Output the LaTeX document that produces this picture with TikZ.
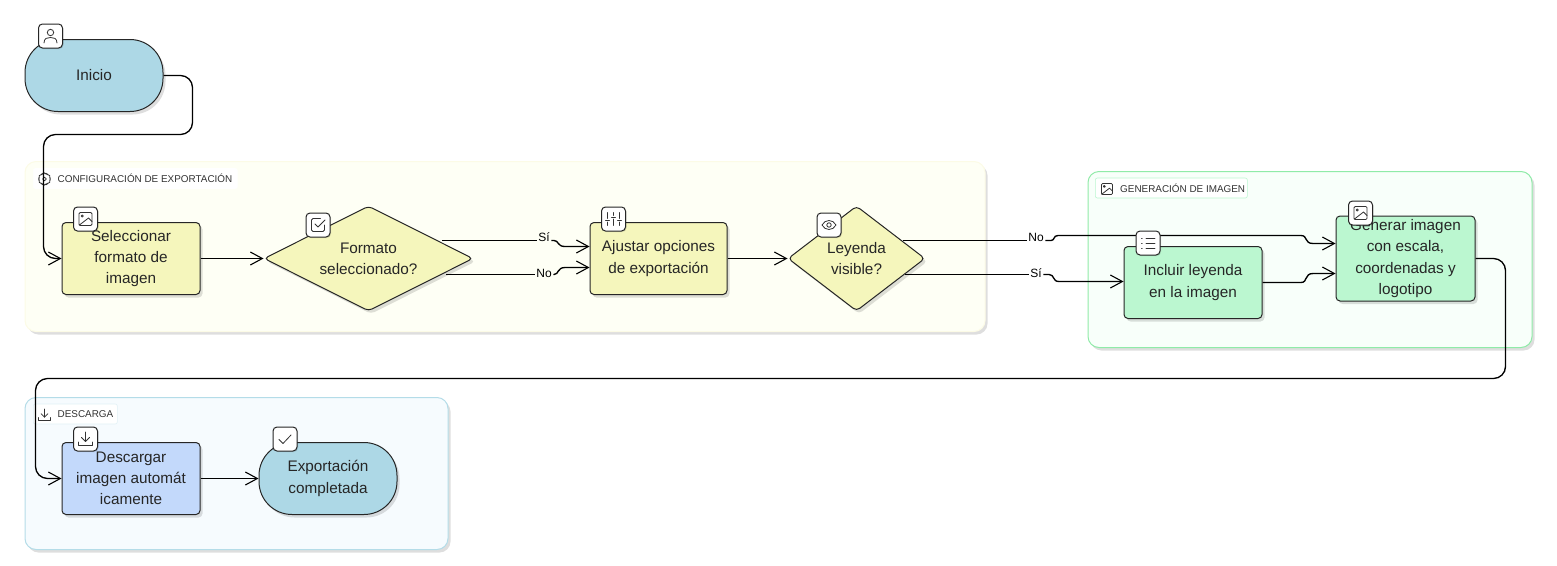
\documentclass[tikz,border=0pt]{standalone}
\usepackage{fontspec}
\setmainfont{Liberation Sans}
\usetikzlibrary{arrows.meta,shapes.geometric,shadows}
\definecolor{nodeline}{HTML}{262626}
\definecolor{startblue}{HTML}{ADD8E6}
\definecolor{stepyellow}{HTML}{F5F6BC}
\definecolor{stepgreen}{HTML}{BBF7D0}
\definecolor{stepblue}{HTML}{C3D9FB}
\definecolor{groupyellow}{HTML}{FEFFF5}
\definecolor{edgeyellow}{HTML}{FCFBE6}
\definecolor{groupgreen}{HTML}{F8FFFA}
\definecolor{edgegreen}{HTML}{90EBA8}
\definecolor{groupblue}{HTML}{F6FBFE}
\definecolor{edgeblue}{HTML}{B4DCE8}
\tikzset{
  softshadow/.style={drop shadow={shadow xshift=2.5pt,shadow yshift=-3pt,fill=black,opacity=0.13}},
  groupbox/.style={rectangle,rounded corners=11pt,line width=1pt,inner sep=0pt,anchor=north west,softshadow},
  grouplabel/.style={rectangle,rounded corners=2pt,line width=0.6pt,fill=white,inner sep=0pt,anchor=west,minimum height=20pt},
  grouptext/.style={font=\fontsize{9.9}{12}\selectfont,text=black!80,inner sep=0pt,anchor=west},
  stepbox/.style={rectangle,draw=nodeline,line width=1pt,rounded corners=4pt,inner sep=0pt,align=center,
    text=black!85,font=\fontsize{15.3}{21.3}\selectfont,softshadow},
  termbox/.style={stepbox,rounded corners=33pt,fill=startblue,minimum width=138pt,minimum height=72pt},
  askbox/.style={diamond,draw=nodeline,fill=stepyellow,line width=1pt,rounded corners=4pt,inner sep=0pt,align=center,
    text=black!85,font=\fontsize{15.3}{21.3}\selectfont,softshadow},
  iconbox/.style={rectangle,draw=nodeline,fill=white,line width=1pt,rounded corners=4pt,minimum size=24pt,inner sep=0pt,
    drop shadow={shadow xshift=1pt,shadow yshift=-1pt,fill=black,opacity=0.12}},
  edgetext/.style={font=\fontsize{12}{14}\selectfont,inner sep=1.5pt},
  flowplain/.style={draw=black,line width=1.35pt},
  flowjog/.style={flowplain,-{Straight Barb[length=12pt,width=13pt,line width=1.1pt]}},
  flow/.style={flowjog,rounded corners=12pt},
  icoline/.style={draw=black!80,line width=0.8pt,line cap=round,line join=round},
  iconperson/.pic={
    \draw[icoline] (0,-3.5) circle (3.2);
    \draw[icoline] (-6.5,7) .. controls (-6.5,2) and (-3,1.5) .. (0,1.5) .. controls (3,1.5) and (6.5,2) .. (6.5,7);
  },
  iconimage/.pic={
    \draw[icoline,rounded corners=1.2pt] (-6.5,-6.5) rectangle (6.5,6.5);
    \draw[icoline] (-3.2,-3) circle (1.1);
    \draw[icoline] (-6.3,6.2) -- (3,-1) -- (6.5,2.5);
  },
  iconcheckbox/.pic={
    \draw[icoline,rounded corners=1.5pt] (6.5,0) -- (6.5,6.5) -- (-6.5,6.5) -- (-6.5,-6.5) -- (2.5,-6.5);
    \draw[icoline] (-3,-1) -- (0,2) -- (7,-5);
  },
  iconsliders/.pic={
    \foreach \xa/\ya in {-6/1.5,0/-1.5,6/1.5}{
      \draw[icoline] (\xa,-6.5) -- (\xa,\ya-2);
      \draw[icoline] (\xa,\ya+1.5) -- (\xa,6.5);
      \draw[icoline] (\xa-2,\ya) -- (\xa+2,\ya);
    }
  },
  iconeye/.pic={
    \draw[icoline] (-7,0) .. controls (-4,-6) and (4,-6) .. (7,0) .. controls (4,6) and (-4,6) .. (-7,0) -- cycle;
    \draw[icoline] (0,0) circle (2.2);
  },
  iconlist/.pic={
    \foreach \ya in {-5,0,5}{
      \draw[icoline] (-2,\ya) -- (7,\ya);
      \draw[icoline] (-6.5,\ya) -- (-5.8,\ya);
    }
  },
  icondown/.pic={
    \draw[icoline] (0,-7) -- (0,2.5);
    \draw[icoline] (-4,-1.5) -- (0,2.5) -- (4,-1.5);
    \draw[icoline] (-7,3) -- (-7,6.5) -- (7,6.5) -- (7,3);
  },
  iconcheck/.pic={
    \draw[icoline] (-6,0.5) -- (-2,4.5) -- (6,-4);
  },
  icongear/.pic={
    \draw[icoline,rounded corners=1.5pt] (-1.5,-6.5) -- (1.5,-6.5) -- (2,-4.5) -- (4.5,-5) -- (6.5,-2) -- (5,0) -- (6.5,2)
      -- (4.5,5) -- (2,4.5) -- (1.5,6.5) -- (-1.5,6.5) -- (-2,4.5) -- (-4.5,5) -- (-6.5,2) -- (-5,0) -- (-6.5,-2)
      -- (-4.5,-5) -- (-2,-4.5) -- cycle;
    \draw[icoline] (0,0) circle (2);
  },
}
\begin{document}
\begin{tikzpicture}[x=1pt,y=-1pt]
\useasboundingbox (0,0) rectangle (1557,565);
% groups
\node[groupbox,fill=groupyellow,draw=edgeyellow,minimum width=960pt,minimum height=170pt] (groupConfig) at (24.5,161) {};
\node[groupbox,fill=groupgreen,draw=edgegreen,minimum width=444pt,minimum height=176pt] (groupGen) at (1087.5,171) {};
\node[groupbox,fill=groupblue,draw=edgeblue,minimum width=423pt,minimum height=152pt] (groupDown) at (24.5,397) {};
% group labels
\node[grouplabel,draw=white,minimum width=204pt] (labelConfig) at (33,178.5) {};
\node[grouplabel,draw=stepgreen,minimum width=152pt] (labelGen) at (1095,188) {};
\node[grouplabel,draw=edgeblue!40,minimum width=84pt] (labelDown) at (33,414) {};
\node[grouptext] (textConfig) at (57.5,178.5) {CONFIGURACIÓN DE EXPORTACIÓN};
\node[grouptext] (textGen) at (1120,188.5) {GENERACIÓN DE IMAGEN};
\node[grouptext] (textDown) at (57.5,414.5) {DESCARGA};
\pic[scale=0.95] at (44.5,179) {icongear};
\pic[scale=0.85] at (1107,189) {iconimage};
\pic[scale=0.85] at (44.5,415) {icondown};
% edge labels
\node[edgetext] (labelSiA) at (544,237) {Sí};
\node[edgetext] (labelNoA) at (544,273.5) {No};
\node[edgetext] (labelNoB) at (1036,237) {No};
\node[edgetext] (labelSiB) at (1036,273.5) {Sí};
% steps
\node[termbox] (inicio) at (94,75.5) {Inicio};
\node[stepbox,fill=stepyellow,minimum width=138pt,minimum height=72pt] (selec) at (131,258.5) {Seleccionar\\formato de\\imagen};
\node[askbox,minimum width=209pt,minimum height=105pt,aspect=2] (formato) at (368.5,258.5) {Formato\\seleccionado?};
\node[stepbox,fill=stepyellow,minimum width=137pt,minimum height=72pt] (ajustar) at (658.5,258.5) {Ajustar opciones\\de exportación};
\node[askbox,minimum width=137pt,minimum height=105pt,aspect=1.3] (leyenda) at (856.5,258.5) {Leyenda\\visible?};
\node[stepbox,fill=stepgreen,minimum width=138pt,minimum height=72pt] (incluir) at (1193,282.5) {Incluir leyenda\\en la imagen};
\node[stepbox,fill=stepgreen,minimum width=139pt,minimum height=85pt] (generar) at (1405.5,258.5) {Generar imagen\\con escala,\\coordenadas y\\logotipo};
\node[stepbox,fill=stepblue,minimum width=138pt,minimum height=72pt] (descargar) at (131,478.5) {Descargar\\imagen automát\\icamente};
\node[termbox] (completa) at (328,478.5) {Exportación\\completada};
% connectors
\draw[flow] (inicio.east) -- (192.5,75.5) -- (192.5,134.5) -- (43.5,134.5) -- (43.5,258.5) -- (selec.west);
\draw[flow] (selec.east) -- (formato.west);
\draw[flowplain] (442,240.5) -- (labelSiA.west |- 0,240.5);
\draw[flowjog] (labelSiA.east |- 0,240.5) -- (554,240.5) .. controls (559,240.5) and (557,246.5) .. (565,246.5) -- (ajustar.west |- 0,246.5);
\draw[flowplain] (446,274.5) -- (labelNoA.west |- 0,274.5);
\draw[flowjog] (labelNoA.east |- 0,274.5) -- (554,274.5) .. controls (559,274.5) and (557,267.5) .. (565,267.5) -- (ajustar.west |- 0,267.5);
\draw[flow] (ajustar.east) -- (leyenda.west);
\draw[flowplain] (903,240.5) -- (labelNoB.west |- 0,240.5);
\draw[flowjog] (labelNoB.east |- 0,240.5) -- (1051,240.5) .. controls (1055,240.5) and (1053,235.5) .. (1058,235.5) -- (1301,235.5)
  .. controls (1308,235.5) and (1304,243.5) .. (1313,243.5) -- (generar.west |- 0,243.5);
\draw[flowplain] (905,274.5) -- (labelSiB.west |- 0,274.5);
\draw[flowjog] (labelSiB.east |- 0,274.5) -- (1049,274.5) .. controls (1055,274.5) and (1052,281.5) .. (1059,281.5) -- (incluir.west |- 0,281.5);
\draw[flowjog] (incluir.east) -- (1301,282.5) .. controls (1308,282.5) and (1304,273.5) .. (1313,273.5) -- (generar.west |- 0,273.5);
\draw[flow] (generar.east) -- (1505.5,258.5) -- (1505.5,378.5) -- (35.5,378.5) -- (35.5,478.5) -- (descargar.west);
\draw[flow] (descargar.east) -- (completa.west);
% icons
\node[iconbox] (iconInicio) at (50.5,36) {};
\node[iconbox] (iconSelec) at (85.5,219) {};
\node[iconbox] (iconFormato) at (318,225) {};
\node[iconbox] (iconAjustar) at (613.5,219) {};
\node[iconbox] (iconLeyenda) at (829,225) {};
\node[iconbox] (iconIncluir) at (1148,243) {};
\node[iconbox] (iconGenerar) at (1360.5,213) {};
\node[iconbox] (iconDescargar) at (85.5,439) {};
\node[iconbox] (iconCompleta) at (285,439) {};
\pic at (iconInicio) {iconperson};
\pic at (iconSelec) {iconimage};
\pic at (iconFormato) {iconcheckbox};
\pic at (iconAjustar) {iconsliders};
\pic at (iconLeyenda) {iconeye};
\pic at (iconIncluir) {iconlist};
\pic at (iconGenerar) {iconimage};
\pic at (iconDescargar) {icondown};
\pic at (iconCompleta) {iconcheck};
\end{tikzpicture}
\end{document}
